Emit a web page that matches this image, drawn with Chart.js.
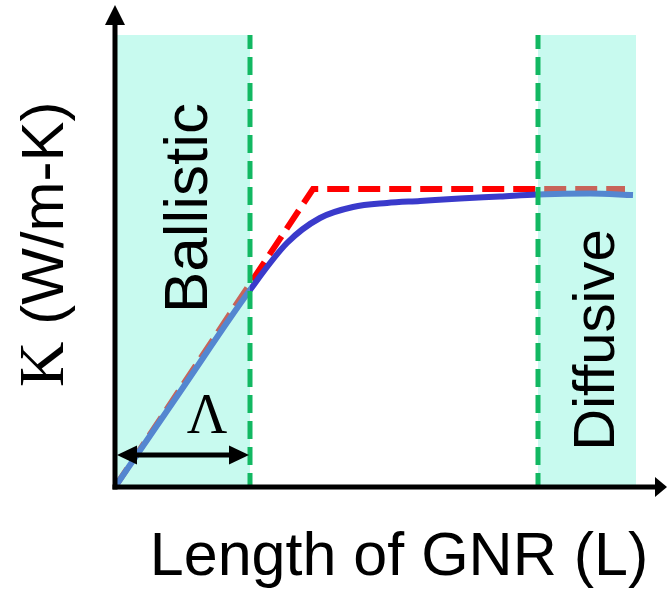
<!DOCTYPE html>
<html><head><meta charset="utf-8">
<script src="https://cdn.jsdelivr.net/npm/chart.js@4.4.1/dist/chart.umd.min.js"></script>
<style>html,body{margin:0;padding:0;background:#fff}#wrap{width:667px;height:590px}</style>
</head><body><div id="wrap"><canvas id="c" width="667" height="590"></canvas></div>
<script>
// Thermal conductivity K versus graphene-nanoribbon length L (schematic units)
const lengthL = [0, 67, 135, 172, 205, 238, 272, 305, 345, 385, 422, 475, 518];
const kActual = [0, 98, 197, 244, 269, 280, 284, 286, 288.5, 290.5, 292.5, 293.5, 292];
const lengthIdeal = [0, 198, 510];
const kIdeal = [0, 298, 298];
const ballisticRange = [2, 135];
const diffusiveRange = [423, 521];
const regionTop = 452;
const lambdaSpan = [2, 134];
const lambdaLevel = 32;
const xTitle = 'Length of GNR (L)';
const yTitleSymbol = 'K';
const yTitleUnit = ' (W/m-K)';
const regionLabels = ['Ballistic', 'Diffusive'];
const lambdaLabel = 'Λ';

const SANS = '"Liberation Sans", Arial, sans-serif';
const SERIF = '"Liberation Serif", "Times New Roman", serif';

function toPoints(xs, ys) { return xs.map((x, i) => ({ x: x, y: ys[i] })); }

function arrowHead(ctx, tipX, tipY, dx, dy, len, half) {
  // dx,dy: unit direction the arrow points to
  const bx = tipX - dx * len, by = tipY - dy * len;
  const px = -dy, py = dx;
  ctx.beginPath();
  ctx.moveTo(tipX, tipY);
  ctx.lineTo(bx + px * half, by + py * half);
  ctx.lineTo(bx - px * half, by - py * half);
  ctx.closePath();
  ctx.fill();
}

const decorations = {
  id: 'decorations',
  afterDatasetsDraw(chart) {
    const ctx = chart.ctx;
    const xs = chart.scales.x, ys = chart.scales.y;
    const y0 = ys.getPixelForValue(0);
    const yTop = ys.getPixelForValue(regionTop);
    ctx.save();

    // translucent regime bands
    ctx.fillStyle = 'rgba(122,244,215,0.41)';
    [ballisticRange, diffusiveRange].forEach(r => {
      const a = xs.getPixelForValue(r[0]), b = xs.getPixelForValue(r[1]);
      ctx.fillRect(a, yTop, b - a, y0 - yTop);
    });

    // dashed regime boundaries
    ctx.strokeStyle = 'rgb(18,184,98)';
    ctx.lineWidth = 5;
    ctx.setLineDash([18, 8]);
    ctx.lineDashOffset = 4;
    [ballisticRange[1], diffusiveRange[0]].forEach(v => {
      const px = xs.getPixelForValue(v);
      ctx.beginPath();
      ctx.moveTo(px, yTop);
      ctx.lineTo(px, y0);
      ctx.stroke();
    });
    ctx.setLineDash([]);

    // axes with arrow heads
    const xL = xs.getPixelForValue(0);
    ctx.strokeStyle = '#000';
    ctx.fillStyle = '#000';
    ctx.lineWidth = 5;
    ctx.beginPath();
    ctx.moveTo(xL, y0 + 2.5);
    ctx.lineTo(xL, 22);
    ctx.stroke();
    arrowHead(ctx, xL, 5, 0, -1, 20, 10);
    ctx.beginPath();
    ctx.moveTo(xL - 2.5, y0);
    ctx.lineTo(658, y0);
    ctx.stroke();
    arrowHead(ctx, 667, y0, 1, 0, 12, 10);

    // mean free path marker
    const ly = ys.getPixelForValue(lambdaLevel);
    const la = xs.getPixelForValue(lambdaSpan[0]), lb = xs.getPixelForValue(lambdaSpan[1]);
    ctx.beginPath();
    ctx.moveTo(la + 10, ly);
    ctx.lineTo(lb - 10, ly);
    ctx.stroke();
    arrowHead(ctx, la, ly, -1, 0, 20, 9.5);
    arrowHead(ctx, lb, ly, 1, 0, 20, 9.5);
    ctx.font = '56px ' + SERIF;
    ctx.textAlign = 'center';
    ctx.textBaseline = 'alphabetic';
    ctx.fillText(lambdaLabel, 207, 433);

    // x-axis title
    ctx.font = '61px ' + SANS;
    ctx.fillText(xTitle, 399, 575);

    // regime labels (vertical)
    ctx.save();
    ctx.translate(207, 208);
    ctx.rotate(-Math.PI / 2);
    ctx.font = '62px ' + SANS;
    ctx.textAlign = 'center';
    ctx.fillText(regionLabels[0], 0, 0);
    ctx.restore();

    ctx.save();
    ctx.translate(614, 340);
    ctx.rotate(-Math.PI / 2);
    ctx.font = '58px ' + SANS;
    ctx.textAlign = 'center';
    ctx.fillText(regionLabels[1], 0, 0);
    ctx.restore();

    // y-axis title (vertical): serif symbol followed by units
    ctx.save();
    ctx.translate(63, 387);
    ctx.rotate(-Math.PI / 2);
    ctx.textAlign = 'left';
    ctx.font = '63px ' + SERIF;
    ctx.fillText(yTitleSymbol, 0, 0);
    const w = ctx.measureText(yTitleSymbol).width;
    ctx.font = '60px ' + SANS;
    ctx.fillText(yTitleUnit, w, 0);
    ctx.restore();

    ctx.restore();
  }
};

new Chart(document.getElementById('c'), {
  type: 'line',
  data: {
    datasets: [
      {
        label: 'Actual',
        data: toPoints(lengthL, kActual),
        borderColor: '#3a3acb',
        borderWidth: 6,
        pointRadius: 0,
        cubicInterpolationMode: 'monotone',
        fill: false,
        order: 1
      },
      {
        label: 'Ideal',
        data: toPoints(lengthIdeal, kIdeal),
        borderColor: '#ff0000',
        borderWidth: 6,
        borderDash: [22, 9],
        pointRadius: 0,
        tension: 0,
        fill: false,
        order: 2
      }
    ]
  },
  options: {
    responsive: false,
    devicePixelRatio: 1,
    animation: false,
    layout: { padding: { left: 115, right: 2, top: 9, bottom: 103 } },
    plugins: { legend: { display: false }, tooltip: { enabled: false }, title: { display: false } },
    scales: {
      x: { type: 'linear', min: 0, max: 550, display: false },
      y: { type: 'linear', min: 0, max: 478, display: false }
    }
  },
  plugins: [decorations]
});
</script>
</body></html>
